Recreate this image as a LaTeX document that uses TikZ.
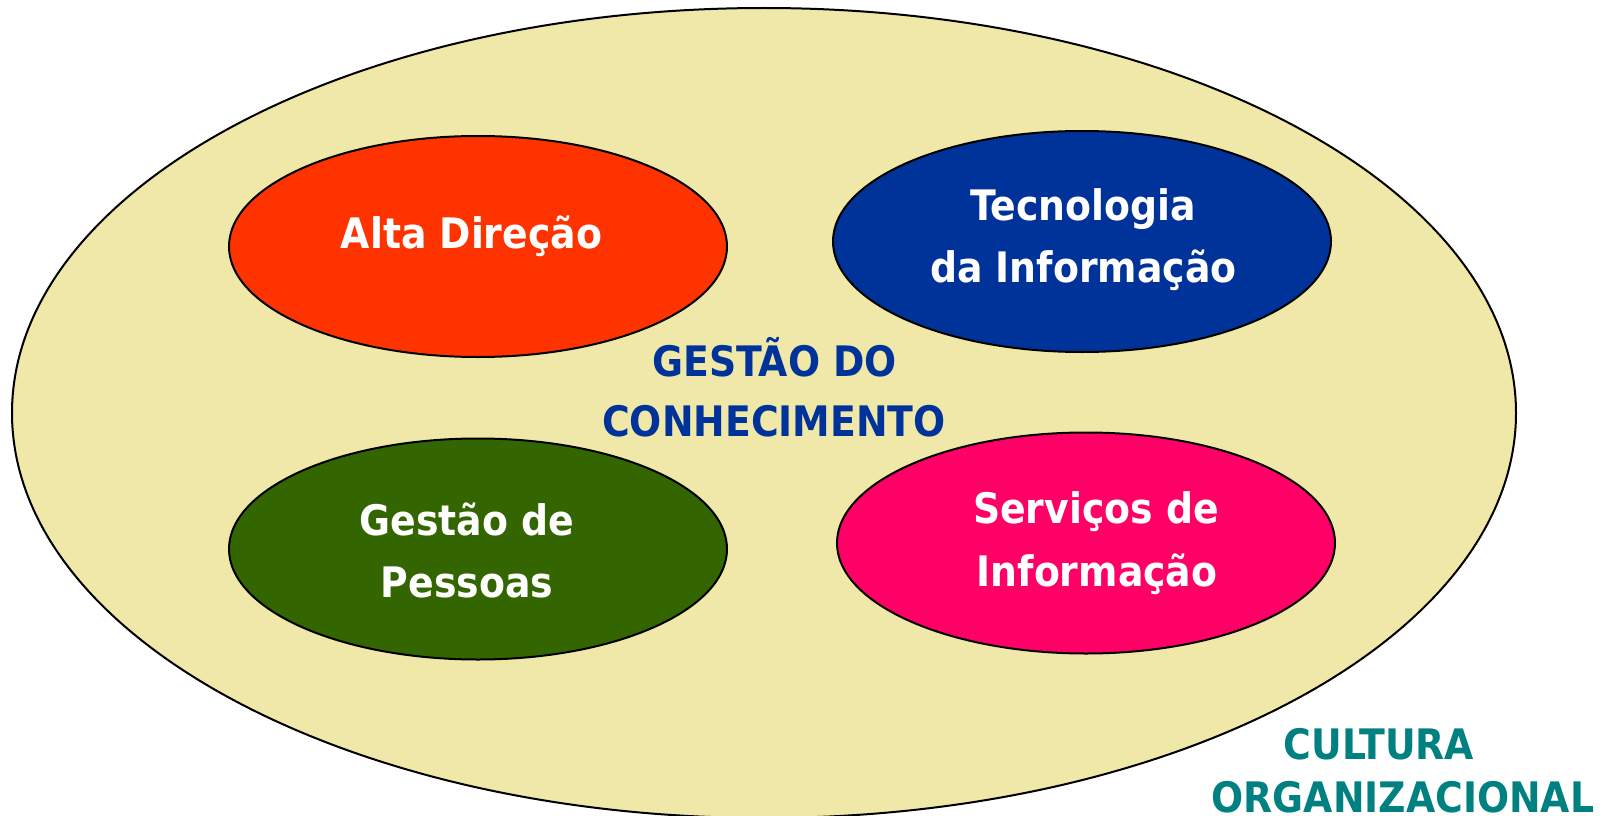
\documentclass[tikz,border=0pt]{standalone}
\usepackage{fontspec}
\newfontfamily\lblfont{DejaVu Sans Condensed Bold}
\usetikzlibrary{shapes.geometric}
\definecolor{bgyellow}{RGB}{240,232,168}
\definecolor{altared}{RGB}{255,51,0}
\definecolor{tecblue}{RGB}{0,51,153}
\definecolor{gpgreen}{RGB}{51,102,0}
\definecolor{sipink}{RGB}{255,0,102}
\definecolor{gcblue}{RGB}{0,51,153}
\definecolor{coteal}{RGB}{0,128,128}
\tikzset{
  blob/.style={ellipse, draw=black, line width=2pt, inner sep=0pt, minimum width=498pt, minimum height=221pt},
  lbl/.style={anchor=base, inner sep=0pt, font=\lblfont\fontsize{42}{50}\selectfont},
  whitelbl/.style={lbl, text=white}
}
\begin{document}
\begin{tikzpicture}[x=1pt,y=-1pt]
\useasboundingbox (0,0) rectangle (1615,816);
\node[ellipse, draw=black, line width=2pt, fill=bgyellow, inner sep=0pt, minimum width=1504pt, minimum height=810pt] (cultura) at (764,413) {};
\node[blob, fill=altared] (alta) at (478,246.5) {};
\node[blob, fill=tecblue] (tec) at (1082,241.5) {};
\node[blob, fill=gpgreen] (gp) at (478,549) {};
\node[blob, fill=sipink] (si) at (1086,543) {};
\node[whitelbl] (altaT) at (471.5,248) {Alta Direção};
\node[whitelbl] (tecA) at (1083,220) {Tecnologia};
\node[whitelbl] (tecB) at (1083.5,282) {da Informação};
\node[whitelbl] (gpA) at (467,535) {Gestão de};
\node[whitelbl] (gpB) at (467,597) {Pessoas};
\node[whitelbl] (siA) at (1096,523) {Serviços de};
\node[whitelbl] (siB) at (1097,586) {Informação};
\node[lbl, text=gcblue] (gcA) at (774.5,376) {GESTÃO DO};
\node[lbl, text=gcblue] (gcB) at (774,436) {CONHECIMENTO};
\node[lbl, text=coteal] (coA) at (1379,759) {CULTURA};
\node[lbl, text=coteal] (coB) at (1403,812) {ORGANIZACIONAL};
\end{tikzpicture}
\end{document}
